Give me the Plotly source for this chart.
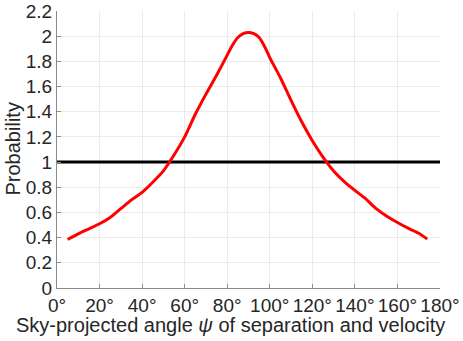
import plotly.graph_objects as go

# angle psi (deg) and probability
angle = [5, 10, 15, 20, 25, 30, 35, 40, 45, 50, 55, 60, 65, 70, 75, 80, 82.5, 85, 87.5, 90,
         92.5, 95, 97.5, 100, 105, 110, 115, 120, 125, 130, 135, 140, 145, 150, 155, 160, 165, 170, 174]
prob = [0.385, 0.43, 0.47, 0.51, 0.56, 0.63, 0.70, 0.76, 0.84, 0.93, 1.056, 1.20, 1.38, 1.54, 1.69, 1.85, 1.93, 1.99, 2.02, 2.03,
        2.02, 1.99, 1.92, 1.83, 1.67, 1.49, 1.32, 1.17, 1.04, 0.93, 0.845, 0.775, 0.71, 0.63, 0.57, 0.52, 0.475, 0.435, 0.39]

ref_x = [0, 180]
ref_y = [1, 1]

x_ticks = [0, 20, 40, 60, 80, 100, 120, 140, 160, 180]
x_labels = [f"{t}°" for t in x_ticks]
y_ticks = [0, 0.2, 0.4, 0.6, 0.8, 1.0, 1.2, 1.4, 1.6, 1.8, 2.0, 2.2]
y_labels = ["0", "0.2", "0.4", "0.6", "0.8", "1", "1.2", "1.4", "1.6", "1.8", "2", "2.2"]

TXT = "#262626"

fig = go.Figure()
fig.add_trace(go.Scatter(x=ref_x, y=ref_y, mode="lines",
                         line=dict(color="black", width=3), showlegend=False))
fig.add_trace(go.Scatter(x=angle, y=prob, mode="lines",
                         line=dict(color="#ff0000", width=3, shape="spline", smoothing=0.6),
                         showlegend=False))

axis_common = dict(
    showgrid=True, gridcolor="#ebebeb", gridwidth=1,
    showline=True, linecolor="#8c8c8c", linewidth=1,
    ticks="inside", ticklen=4, tickcolor="#8c8c8c",
    zeroline=False, automargin=False, ticklabeloverflow="allow",
    tickfont=dict(size=19, color=TXT),
)

fig.update_xaxes(range=[0, 180], tickvals=x_ticks, ticktext=x_labels, tickangle=0, **axis_common)
fig.update_yaxes(range=[0, 2.2001], tickvals=y_ticks, ticktext=y_labels, **axis_common)

# axis titles placed as annotations
fig.add_annotation(text="Sky-projected angle <i>ψ</i> of separation and velocity",
                   xref="paper", yref="paper", x=0.454, y=0, xanchor="center", yanchor="middle",
                   yshift=-37, showarrow=False, font=dict(size=20, color=TXT))
fig.add_annotation(text="Probability", textangle=-90,
                   xref="paper", yref="paper", x=0, y=0.5, xanchor="center", yanchor="middle",
                   xshift=-45, showarrow=False, font=dict(size=20, color=TXT))

fig.update_layout(
    width=463, height=341,
    margin=dict(l=57, r=23, t=11, b=53),
    paper_bgcolor="white", plot_bgcolor="white",
    font=dict(family="Liberation Sans, Arial, sans-serif"),
)

# drop the browser's default 8px body margin so the figure sits at the page corner
fig.write_html("out.html", config={"displayModeBar": False},
               post_script="document.body.style.margin='0';")
